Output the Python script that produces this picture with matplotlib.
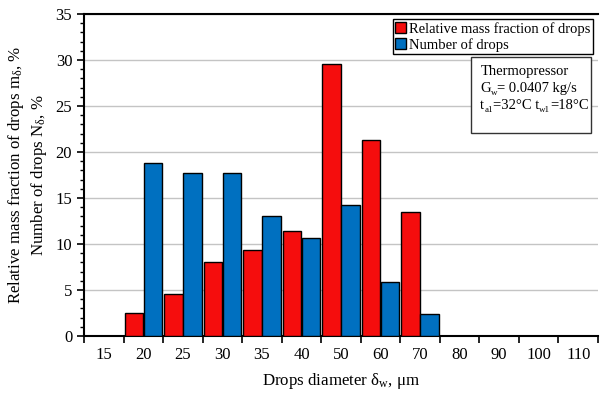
import numpy as np
import matplotlib.pyplot as plt
from matplotlib.patches import Patch, Rectangle
from matplotlib.ticker import MultipleLocator, FixedLocator

plt.rcParams['font.family'] = 'Liberation Serif'
plt.rcParams['mathtext.fontset'] = 'custom'
plt.rcParams['mathtext.rm'] = 'Liberation Serif'
plt.rcParams['mathtext.it'] = 'Liberation Serif'

diameters = ['15', '20', '25', '30', '35', '40', '50', '60', '70', '80', '90', '100', '110']
mass_fraction = [0, 2.5, 4.6, 8.0, 9.3, 11.4, 29.6, 21.3, 13.5, 0, 0, 0, 0]
number_drops = [0, 18.8, 17.7, 17.7, 13.0, 10.6, 14.2, 5.9, 2.4, 0, 0, 0, 0]

red = '#f50d0d'
blue = '#0070c0'

fig = plt.figure(figsize=(6, 3.96), dpi=100)
ax = fig.add_axes([0.14, 0.1515, 0.8567, 0.8131])

x = np.arange(len(diameters))
w = 0.47
for xi, m, n in zip(x, mass_fraction, number_drops):
    if m > 0:
        ax.bar(xi - 0.24, m, width=w, color=red, edgecolor='black', linewidth=1, zorder=3)
    if n > 0:
        ax.bar(xi + 0.24, n, width=w, color=blue, edgecolor='black', linewidth=1, zorder=3)

ax.set_xlim(-0.5, len(diameters) - 0.5)
ax.set_ylim(0, 35)

# labels sit in the middle of each slot, ticks mark the slot borders
ax.xaxis.set_major_locator(FixedLocator(x))
ax.set_xticklabels(diameters)
ax.xaxis.set_minor_locator(FixedLocator(np.arange(-0.5, len(diameters), 1)))
ax.tick_params(axis='x', which='major', length=0, labelsize=12, pad=8)
ax.tick_params(axis='x', which='minor', length=5, width=1.2, direction='out')

ax.yaxis.set_major_locator(MultipleLocator(5))
ax.yaxis.set_minor_locator(MultipleLocator(1))
ax.tick_params(axis='y', which='major', length=5, width=1.2, direction='out', labelsize=12)
ax.tick_params(axis='y', which='minor', length=3, width=1, direction='out')

ax.grid(axis='y', color='#c4c4c4', linewidth=1, zorder=0)
ax.set_axisbelow(True)

ax.spines['right'].set_visible(False)
for s in ['left', 'bottom', 'top']:
    ax.spines[s].set_linewidth(1.5)

ax.set_xlabel(r'Drops diameter $\delta_w$, $\mu$m', fontsize=12.2, labelpad=6)
ax.set_ylabel('Relative mass fraction of drops m$_\\delta$, %\nNumber of drops N$_\\delta$, %',
              fontsize=12.2, labelpad=5)

handles = [Patch(facecolor=red, edgecolor='black'), Patch(facecolor=blue, edgecolor='black')]
leg = ax.legend(handles, ['Relative mass fraction of drops', 'Number of drops'],
                loc='upper right', bbox_to_anchor=(0.99, 0.985), borderaxespad=0,
                fancybox=False, framealpha=1, edgecolor='black', fontsize=10.5,
                handlelength=0.7, handleheight=0.7, handletextpad=0.2,
                labelspacing=0.15, borderpad=0.2)
leg.get_frame().set_linewidth(1)

ax.add_patch(Rectangle((0.753, 0.63), 0.233, 0.236, transform=ax.transAxes,
                       facecolor='white', edgecolor='#333333', linewidth=1, zorder=5))


def write_runs(x0, y0, runs):
    # runs: (text, fontsize, shift below the baseline in points)
    descent = 0.22
    prev = ax.text(x0, y0, runs[0][0], transform=ax.transAxes, fontsize=runs[0][1],
                   va='baseline', ha='left', zorder=6)
    prev_size, prev_shift = runs[0][1], runs[0][2]
    for s, fs, shift in runs[1:]:
        dy = -(shift - prev_shift) - descent * (fs - prev_size)
        prev = ax.annotate(s, xy=(1, 0), xycoords=prev, xytext=(0, dy),
                           textcoords='offset points', fontsize=fs,
                           va='bottom', ha='left', zorder=6)
        prev_size, prev_shift = fs, shift


sub = 6.5
drop = 2.5
ax.text(0.771, 0.811, 'Thermopressor', transform=ax.transAxes, fontsize=10.5,
        va='baseline', ha='left', zorder=6)
write_runs(0.771, 0.758, [('G', 10.5, 0), ('w', sub, drop), ('= 0.0407 kg/s', 10.5, 0)])
write_runs(0.771, 0.706, [('t', 10.5, 0), ('a1', sub, drop), ('=32°C t', 10.5, 0),
                          ('w1', sub, drop), ('=18°C', 10.5, 0)])

fig.savefig('out.png', dpi=100)
